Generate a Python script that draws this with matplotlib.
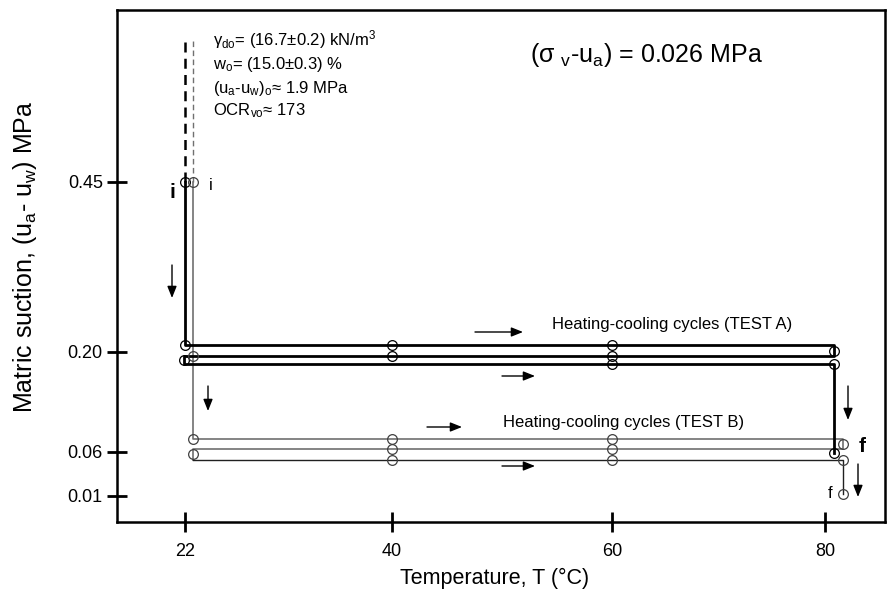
import numpy as np
import matplotlib
matplotlib.use("Agg")
import matplotlib.pyplot as plt
from matplotlib.ticker import FixedLocator, FixedFormatter

plt.rcParams['font.family'] = ['Liberation Sans', 'DejaVu Sans']
plt.rcParams['mathtext.fontset'] = 'custom'
plt.rcParams['mathtext.rm'] = 'Liberation Sans'
plt.rcParams['mathtext.it'] = 'Liberation Sans'
plt.rcParams['mathtext.sf'] = 'Liberation Sans'

# ticks (the axes of the original are schematic, not linear)
x_ticks = [22, 40, 60, 80]
y_ticks = [0.01, 0.06, 0.20, 0.45]
y_tick_labels = ['0.01', '0.06', '0.20', '0.45']

# TEST A path: temperature (C), suction (MPa)
a_T = [22, 22, 80.8, 80.8, 21.9, 21.9, 80.8, 80.8]
a_s = [0.45, 0.21, 0.21, 0.194, 0.194, 0.183, 0.183, 0.058]
a_pts_T = [22, 22, 21.9, 40, 40, 60, 60, 60, 80.8, 80.8, 80.8]
a_pts_s = [0.45, 0.21, 0.189, 0.21, 0.194, 0.21, 0.194, 0.183, 0.2015, 0.183, 0.058]

# TEST B path
b_T = [22.7, 22.7, 81.7, 81.7, 22.7, 22.7, 81.7, 81.7]
b_s = [0.45, 0.078, 0.078, 0.064, 0.064, 0.051, 0.051, 0.012]
b_pts_T = [22.7, 22.7, 22.7, 22.7, 40, 40, 40, 60, 60, 60, 81.7, 81.7, 81.7]
b_pts_s = [0.45, 0.195, 0.078, 0.057, 0.078, 0.064, 0.051, 0.078, 0.064, 0.051, 0.071, 0.051, 0.012]

# initial (dashed) branch
dash_top = 0.658


def piecewise(k_in, k_out):
    k_in = np.asarray(k_in, float)
    k_out = np.asarray(k_out, float)
    lo = (k_out[1] - k_out[0]) / (k_in[1] - k_in[0])
    hi = (k_out[-1] - k_out[-2]) / (k_in[-1] - k_in[-2])

    def f(v):
        v = np.asarray(v, float)
        out = np.interp(v, k_in, k_out)
        out = np.where(v < k_in[0], k_out[0] + (v - k_in[0]) * lo, out)
        out = np.where(v > k_in[-1], k_out[-1] + (v - k_in[-1]) * hi, out)
        return out
    return f


y_pos = [26.3, 70.3, 170, 340.3]
x_pos = [68, 275, 495, 708]
x_fwd, x_inv = piecewise(x_ticks, x_pos), piecewise(x_pos, x_ticks)
y_fwd, y_inv = piecewise(y_ticks, y_pos), piecewise(y_pos, y_ticks)


def at(px, py):
    # figure pixel (from top-left) -> data coords, for labels and arrows
    return float(x_inv(px - 117)), float(y_inv(522 - py))


fig = plt.figure(figsize=(8.89, 6.05), dpi=100)
ax = fig.add_axes([117/889, 83/605, 768/889, 512/605])
ax.set_xscale('function', functions=(x_fwd, x_inv))
ax.set_yscale('function', functions=(y_fwd, y_inv))
ax.set_xlim(float(x_inv(0)), float(x_inv(768)))
ax.set_ylim(float(y_inv(0)), float(y_inv(512)))

grey = '#707070'
# dashed initial branches
ax.plot([a_T[0], a_T[0]], [a_s[0], dash_top], color='black', lw=1.8, ls=(0, (4, 2.5)))
ax.plot([b_T[0], b_T[0]], [b_s[0], dash_top], color=grey, lw=1.0, ls=(0, (4, 2.5)))

ax.plot(b_T[:6], b_s[:6], color=grey, lw=1.2, zorder=2)
ax.plot(b_T[5:], b_s[5:], color='#202020', lw=1.0, zorder=2)
ax.plot(a_T, a_s, color='black', lw=2.0, zorder=3)

ax.plot(a_pts_T, a_pts_s, 'o', ms=7, mfc='none', mec='black', mew=0.9, zorder=4)
ax.plot(b_pts_T, b_pts_s, 'o', ms=7, mfc='none', mec='#404040', mew=0.9, zorder=4)

ax.xaxis.set_major_locator(FixedLocator(x_ticks))
ax.xaxis.set_major_formatter(FixedFormatter([str(t) for t in x_ticks]))
ax.yaxis.set_major_locator(FixedLocator(y_ticks))
ax.yaxis.set_major_formatter(FixedFormatter(y_tick_labels))
ax.minorticks_off()
ax.tick_params(direction='inout', length=14.5, width=2, labelsize=13, pad=3)
ax.tick_params(axis='x', pad=8)
for s in ax.spines.values():
    s.set_linewidth(1.8)

ax.set_xlabel('Temperature, T (°C)', fontsize=15.5)
ax.xaxis.set_label_coords((495 - 117) / 768, (522 - 578) / 512)
ax.set_ylabel('Matric suction, (u$_a$- u$_w$) MPa', fontsize=18)
ax.yaxis.set_label_coords((25 - 117) / 768, (522 - 257) / 512)
ax.xaxis.label.set_va('center')
ax.yaxis.label.set_va('center')

# annotations
ax.text(*at(213, 40), r'$\gamma_{do}$= (16.7±0.2) kN/m$^3$', fontsize=12, va='center')
ax.text(*at(213, 64), r'w$_o$= (15.0±0.3) %', fontsize=12, va='center')
ax.text(*at(213, 88), r'(u$_a$-u$_w$)$_o$≈ 1.9 MPa', fontsize=12, va='center')
ax.text(*at(213, 111), r'OCR$_{vo}$≈ 173', fontsize=12, va='center')
ax.text(*at(646, 55), r'($\sigma$ $_{v}$-u$_{a}$) = 0.026 MPa', fontsize=18, ha='center', va='center')
ax.text(*at(672, 324), 'Heating-cooling cycles (TEST A)', fontsize=12, ha='center', va='center')
ax.text(*at(624, 422), 'Heating-cooling cycles (TEST B)', fontsize=12, ha='center', va='center')
ax.text(*at(172, 192), 'i', fontsize=15, fontweight='bold', ha='center', va='center')
ax.text(*at(211, 186), 'i', fontsize=12, ha='center', va='center')
ax.text(*at(862, 447), 'f', fontsize=15, fontweight='bold', ha='center', va='center')
ax.text(*at(830, 494), 'f', fontsize=12, ha='center', va='center')

arr = dict(arrowstyle='-|>,head_length=0.7,head_width=0.28', color='black', lw=1.0,
           shrinkA=0, shrinkB=0)
arrows = [
    ((172, 265), (172, 298)),
    ((208, 386), (208, 411)),
    ((475, 332), (523, 332)),
    ((502, 376), (535, 376)),
    ((427, 427), (462, 427)),
    ((502, 466), (535, 466)),
    ((848, 386), (848, 420)),
    ((858, 464), (858, 497)),
]
for start, end in arrows:
    ax.annotate('', xy=at(*end), xytext=at(*start), arrowprops=arr)

fig.savefig('out.png', dpi=100)
